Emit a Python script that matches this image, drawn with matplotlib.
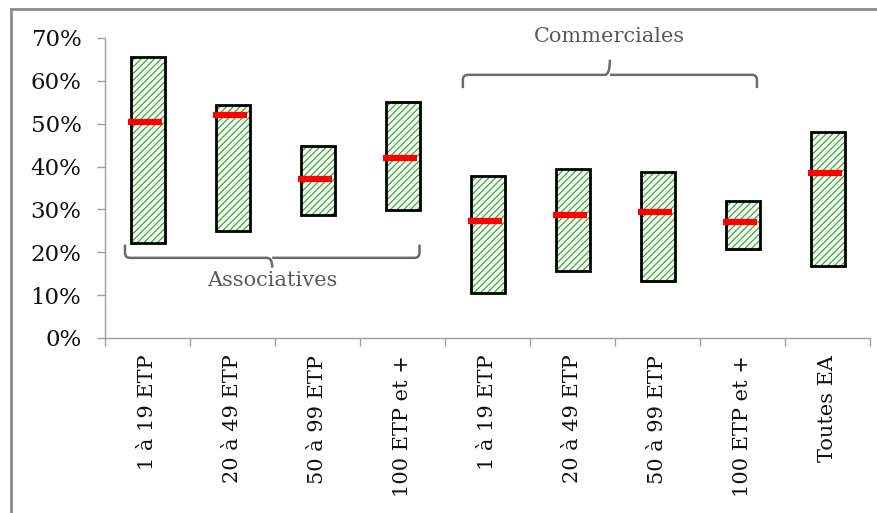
import matplotlib
matplotlib.use("Agg")
import matplotlib.pyplot as plt
from matplotlib.path import Path
from matplotlib.patches import PathPatch
from matplotlib.lines import Line2D
from matplotlib.ticker import FuncFormatter
import numpy as np

categories = ["1 à 19 ETP", "20 à 49 ETP", "50 à 99 ETP", "100 ETP et +",
              "1 à 19 ETP", "20 à 49 ETP", "50 à 99 ETP", "100 ETP et +",
              "Toutes EA"]
low = [22.1, 25.0, 28.8, 29.8, 10.5, 15.7, 13.4, 20.8, 16.9]
high = [65.5, 54.4, 44.8, 55.1, 37.9, 39.4, 38.7, 31.9, 48.1]
median = [50.3, 52.1, 37.2, 41.9, 27.3, 28.8, 29.4, 27.0, 38.6]
yticks = [0, 10, 20, 30, 40, 50, 60, 70]
groups = [("Associatives", 0, 3), ("Commerciales", 4, 7)]

FONT = "DejaVu Serif"
plt.rcParams["hatch.linewidth"] = 0.9

fig = plt.figure(figsize=(8.77, 5.13), dpi=100)
ax = fig.add_axes([105/877, 1-338/513, (870-105)/877, 300/513])

x = np.arange(len(categories))
bottoms = np.array(low)
heights = np.array(high) - bottoms
W = 0.40
ax.bar(x, heights, bottom=bottoms, width=W, color="#f4fbf2",
       edgecolor="#45a545", hatch="/////", linewidth=0, zorder=2)
ax.bar(x, heights, bottom=bottoms, width=W, color="none",
       edgecolor="black", linewidth=2.0, zorder=3)
for xi, m in zip(x, median):
    ax.plot([xi - W/2 - 0.035, xi + W/2 - 0.035], [m, m], color="#ff0000",
            lw=4.5, solid_capstyle="butt", zorder=4)

ax.set_xlim(-0.5, len(categories) - 0.5)
ax.set_ylim(0, 70)
ax.set_yticks(yticks)
ax.yaxis.set_major_formatter(FuncFormatter(lambda v, p: f"{v:.0f}%"))
ax.set_xticks(x)
ax.set_xticklabels(categories, rotation=90, family=FONT, fontsize=15, color="#111111")
ax.set_xticks(np.arange(len(categories) + 1) - 0.5, minor=True)
ax.tick_params(axis="x", which="major", length=0, pad=12)
ax.tick_params(axis="x", which="minor", length=6, width=1, color="#a0a0a0")
ax.tick_params(axis="y", length=6, width=1, color="#a0a0a0", pad=11)
for lab in ax.get_yticklabels():
    lab.set_family(FONT)
    lab.set_fontsize(16.5)
    lab.set_color("#111111")
for s in ["top", "right"]:
    ax.spines[s].set_visible(False)
for s in ["left", "bottom"]:
    ax.spines[s].set_color("#a0a0a0")
    ax.spines[s].set_linewidth(1)


def bracket(ax, x0, x1, ybase, yline, ytip, r=0.06):
    # ybase: ends, yline: horizontal, ytip: middle tip
    xm = (x0 + x1) / 2
    dy = 1.2 * np.sign(ybase - yline)
    verts = [(x0, ybase), (x0, yline + dy), (x0, yline), (x0 + r, yline),
             (xm - r, yline), (xm, yline), (xm, ytip),
             (xm, yline), (xm + r, yline),
             (x1 - r, yline), (x1, yline), (x1, yline + dy), (x1, ybase)]
    codes = [Path.MOVETO, Path.LINETO, Path.CURVE3, Path.CURVE3,
             Path.LINETO, Path.CURVE3, Path.CURVE3,
             Path.MOVETO, Path.LINETO,
             Path.LINETO, Path.CURVE3, Path.CURVE3, Path.LINETO]
    p = PathPatch(Path(verts, codes), fill=False, edgecolor="#6b6b6b", lw=1.8,
                  clip_on=False, zorder=5, capstyle="butt")
    ax.add_patch(p)


# Associatives (below, opening upward)
name, a, b = groups[0]
bracket(ax, a - 0.265, b + 0.2, 21.8, 18.7, 16.4)
ax.text((a - 0.265 + b + 0.2) / 2, 13.4, name, ha="center", va="center",
        family=FONT, fontsize=15, color="#595959")
# Commerciales (above, opening downward)
name, a, b = groups[1]
bracket(ax, a - 0.29, b + 0.17, 58.3, 61.4, 64.9)
ax.text((a - 0.29 + b + 0.17) / 2, 70.3, name, ha="center", va="center",
        family=FONT, fontsize=15, color="#595959", clip_on=False)

# outer frame (partial)
fig.add_artist(Line2D([11/877, 1], [1-9/513, 1-9/513], color="#8c8c8c", lw=2))
fig.add_artist(Line2D([11/877, 11/877], [0, 1-9/513], color="#8c8c8c", lw=2))

fig.savefig("out.png", dpi=100)
